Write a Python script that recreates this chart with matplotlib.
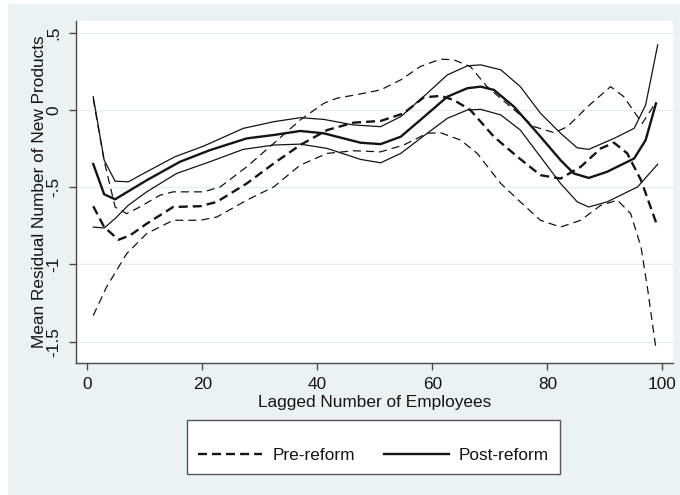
import matplotlib
matplotlib.use('Agg')
import matplotlib.pyplot as plt
from matplotlib.patches import Rectangle
from matplotlib.lines import Line2D

plt.rcParams['font.family'] = ['Liberation Sans', 'DejaVu Sans']
plt.rcParams['lines.scale_dashes'] = False

# ---------------- data ----------------
post_x = [1, 2.9, 4.8, 10.3, 16.1, 21.3, 27.7, 32.4, 37, 41.1, 47.5, 51, 54.5, 57.9,
          62.6, 66.1, 68.4, 70.7, 74.2, 78.3, 82.3, 84.6, 87.2, 90.4, 95.1, 97.1, 98.9]
post_y = [-0.35, -0.546, -0.578, -0.455, -0.335, -0.26, -0.184, -0.162, -0.136, -0.151,
          -0.212, -0.221, -0.173, -0.065, 0.086, 0.141, 0.151, 0.13, 0.021, -0.151,
          -0.325, -0.411, -0.44, -0.40, -0.314, -0.195, 0.043]

post_hi_x = [1, 2.9, 4.8, 7.1, 10.3, 15.2, 20.2, 27.1, 32.4, 37, 41.1, 46.3, 51, 54.5,
             59.1, 62.6, 66.1, 68.4, 71.9, 75.3, 78.8, 82.3, 85.2, 87.2, 91.6, 95.1, 97.1, 99.2]
post_hi_y = [0.086, -0.325, -0.461, -0.465, -0.40, -0.303, -0.234, -0.119, -0.076, -0.05,
             -0.061, -0.097, -0.108, -0.043, 0.108, 0.227, 0.286, 0.292, 0.26, 0.151,
             -0.021, -0.151, -0.245, -0.255, -0.184, -0.119, 0.032, 0.422]

post_lo_x = [1, 2.9, 4.8, 7.1, 10.3, 15.5, 21.3, 27.1, 32.4, 37, 41.7, 47.5, 51, 54.5,
             59.1, 62.6, 66.1, 68.4, 71.9, 75.3, 78.8, 82.3, 85.2, 87.2, 90.4, 95.7, 99.2]
post_lo_y = [-0.758, -0.764, -0.703, -0.617, -0.530, -0.411, -0.335, -0.255, -0.227, -0.221,
             -0.249, -0.320, -0.342, -0.281, -0.151, -0.054, 0.0, 0.004, -0.032, -0.13,
             -0.303, -0.476, -0.595, -0.628, -0.595, -0.498, -0.351]

pre_x = [1, 2.9, 5.4, 7.4, 10.3, 14.9, 19.6, 22.5, 27.7, 32.4, 37, 41.7, 46.3, 51, 55,
         58.5, 61.4, 63.7, 66.6, 70.7, 74.8, 78.8, 82.3, 85.8, 89.3, 91.6, 93.9, 96.3, 99.2]
pre_y = [-0.623, -0.758, -0.84, -0.812, -0.736, -0.628, -0.623, -0.595, -0.476, -0.346,
         -0.227, -0.13, -0.082, -0.071, -0.022, 0.082, 0.091, 0.065, 0.0, -0.173, -0.303,
         -0.422, -0.444, -0.368, -0.249, -0.212, -0.281, -0.455, -0.758]

pre_hi_x = [1, 2.9, 4.8, 6.8, 9.1, 12.6, 14.9, 20.2, 23.1, 27.7, 32.4, 37, 41.1, 43.4, 47.5,
            51, 54.5, 57.9, 61.4, 63.7, 66.6, 69.5, 73.6, 77.7, 81.2, 83.5, 87, 91, 93.3,
            96.5, 98.9]
pre_hi_y = [0.07, -0.33, -0.628, -0.671, -0.628, -0.552, -0.530, -0.530, -0.498, -0.368,
            -0.216, -0.065, 0.043, 0.076, 0.104, 0.13, 0.195, 0.281, 0.329, 0.325, 0.281,
            0.151, 0.021, -0.108, -0.147, -0.108, 0.021, 0.151, 0.086, -0.087, 0.05]

pre_lo_x = [1, 3.3, 6.8, 10.3, 14.9, 19.6, 22.5, 27.7, 32.4, 37, 41.7, 46.3, 51, 55, 59.1,
            61.4, 64.9, 67.8, 71.9, 75.3, 78.8, 82.3, 85.8, 89.3, 92.2, 94.5, 96.3, 97.4, 98.9]
pre_lo_y = [-1.331, -1.147, -0.931, -0.80, -0.714, -0.714, -0.693, -0.584, -0.498, -0.357,
            -0.281, -0.264, -0.271, -0.227, -0.151, -0.147, -0.195, -0.281, -0.476, -0.595,
            -0.714, -0.758, -0.714, -0.617, -0.584, -0.671, -0.888, -1.147, -1.548]

x_ticks = [0, 20, 40, 60, 80, 100]
y_ticks = [-1.5, -1, -0.5, 0, 0.5]
y_tick_labels = ['-1.5', '-1', '-.5', '0', '.5']
series_labels = ['Pre-reform', 'Post-reform']

# ---------------- figure ----------------
W, H = 680, 495
BG = '#eaf2f3'
FS = 12.4
INK = '#141414'
AX = '#4a4a4a'

fig = plt.figure(figsize=(W / 100, H / 100), dpi=100, facecolor='white')
fig.patches.append(Rectangle((8 / W, 0), 1, 1 - 4 / H, transform=fig.transFigure,
                             facecolor=BG, edgecolor='none', zorder=-10))

L, R, T, B = 76, 673, 21, 363
ax = fig.add_axes([L / W, 1 - B / H, (R - L) / W, (B - T) / H])
ax.set_facecolor('white')

thick = 1.7
thin = 0.9
dash_thick = (0, (6.5, 3.6))
dash_thin = (0, (5.8, 3.6))

ax.plot(pre_hi_x, pre_hi_y, color=INK, lw=thin, ls=dash_thin)
ax.plot(pre_lo_x, pre_lo_y, color=INK, lw=thin, ls=dash_thin)
ax.plot(post_hi_x, post_hi_y, color=INK, lw=thin, ls='-')
ax.plot(post_lo_x, post_lo_y, color=INK, lw=thin, ls='-')
ax.plot(pre_x, pre_y, color=INK, lw=thick, ls=dash_thick)
ax.plot(post_x, post_y, color=INK, lw=thick, ls='-')

ax.set_xlim(-2.0, 101.86)
ax.set_ylim(-1.638, 0.576)

ax.set_xticks(x_ticks)
ax.set_xticklabels([str(v) for v in x_ticks])
ax.set_yticks(y_ticks)
ax.set_yticklabels(y_tick_labels, rotation=90, va='center')

ax.grid(axis='y', color='#e6eef0', lw=1.0)
ax.set_axisbelow(True)

for s in ['top', 'right']:
    ax.spines[s].set_visible(False)
for s in ['left', 'bottom']:
    ax.spines[s].set_color(AX)
    ax.spines[s].set_linewidth(1.0)

ax.tick_params(axis='both', direction='out', length=4.8, width=1.0, color=AX,
               labelsize=FS, labelcolor=INK)
ax.tick_params(axis='x', pad=5)
ax.tick_params(axis='y', pad=5.5)

ax.set_xlabel('Lagged Number of Employees', fontsize=FS, color=INK, va='center')
ax.xaxis.set_label_coords(0.5, (B - 402) / (B - T))
ax.set_ylabel('Mean Residual Number of New Products', fontsize=FS, color=INK, va='center')
ax.yaxis.set_label_coords((39.5 - L) / (R - L), 0.5)

handles = [Line2D([], [], color=INK, lw=thick, ls=dash_thick),
           Line2D([], [], color=INK, lw=thick, ls='-')]
leg = fig.legend(handles, series_labels, loc='upper left',
                 bbox_to_anchor=(186.5 / W, 1 - 420 / H), borderaxespad=0,
                 ncol=2, fontsize=FS, frameon=True, fancybox=False,
                 edgecolor='#555555', facecolor='white', framealpha=1,
                 handlelength=3.77, handletextpad=0.58, columnspacing=1.68,
                 borderpad=0.64, title=' ', title_fontsize=9, labelspacing=0.3)
leg.get_frame().set_linewidth(1.0)
for t in leg.get_texts():
    t.set_color(INK)

fig.savefig('out.png', dpi=100, facecolor=fig.get_facecolor())
